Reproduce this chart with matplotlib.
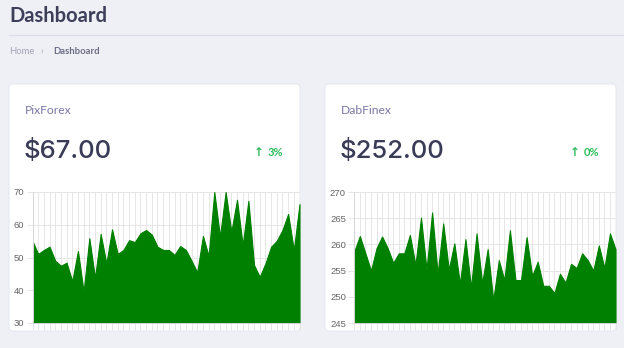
import numpy as np
import matplotlib.pyplot as plt
from matplotlib.patches import FancyBboxPatch

# price history for the two tickers
pix_prices = [55.0, 51.1, 52.3, 53.3, 49.0, 47.5, 48.4, 42.8, 52.0, 39.6,
              55.9, 43.8, 57.2, 48.2, 58.6, 51.1, 52.3, 55.3, 54.7, 57.4,
              58.4, 57.0, 53.3, 52.3, 52.3, 50.8, 53.5, 52.3, 49.0, 45.5,
              56.6, 50.5, 70.0, 56.4, 70.0, 57.9, 67.6, 53.8, 67.3, 47.7,
              44.1, 48.2, 53.3, 55.1, 58.4, 63.3, 52.3, 66.3]
dab_prices = [258.7, 261.6, 258.3, 255.0, 259.3, 261.5, 259.3, 256.5, 258.3, 258.3,
              261.8, 256.1, 265.1, 255.2, 266.1, 254.4, 264.0, 255.2, 260.2, 252.5,
              261.0, 251.8, 262.1, 252.6, 259.1, 249.4, 257.0, 253.2, 262.7, 253.2,
              253.2, 261.4, 254.0, 256.7, 252.1, 252.1, 250.7, 254.4, 252.7, 256.3,
              255.5, 258.3, 257.0, 255.0, 259.8, 255.5, 262.1, 259.1]
pix_ticks = [30, 40, 50, 60, 70]
dab_ticks = [245, 250, 255, 260, 265, 270]

cards = [
    {"name": "PixForex", "price": "$67.00", "change": "3%",
     "data": pix_prices, "ticks": pix_ticks, "x": 9, "pad": 23.5},
    {"name": "DabFinex", "price": "$252.00", "change": "0%",
     "data": dab_prices, "ticks": dab_ticks, "x": 325, "pad": 29.3},
]

W, H = 624, 348
BG = "#eef0f6"
UI_FONT = ["Lato", "DejaVu Sans"]

fig = plt.figure(figsize=(W / 100, H / 100), dpi=100)
fig.patch.set_facecolor(BG)

# full-figure axes in pixel units for the page chrome
page = fig.add_axes([0, 0, 1, 1])
page.set_xlim(0, W)
page.set_ylim(H, 0)
page.axis("off")

page.text(9, 16, "Dashboard", fontsize=14.5, color="#3c3e5a", fontweight="bold",
          family=UI_FONT, va="center", ha="left")
page.plot([9, W], [35, 35], color="#dcdde8", lw=0.8)
page.text(9, 51, "Home", fontsize=6.8, color="#a3a4b5", family=UI_FONT,
          va="center", ha="left")
page.text(40, 51, "›", fontsize=7, color="#a3a4b5", family=UI_FONT,
          va="center", ha="left")
page.text(53, 51, "Dashboard", fontsize=6.8, color="#6c6d85", family=UI_FONT,
          va="center", ha="left", fontweight="bold")


def to_fig(x0, y0, x1, y1):
    return [x0 / W, 1 - y1 / H, (x1 - x0) / W, (y1 - y0) / H]


for card in cards:
    cx = card["x"]
    page.add_patch(FancyBboxPatch((cx, 84), 291, 247,
                                  boxstyle="round,pad=0,rounding_size=4",
                                  facecolor="white", edgecolor="#e4e5ee", lw=0.6))
    page.text(cx + 16, 110, card["name"], fontsize=8.7, color="#7a76a6",
              family=UI_FONT, va="center", ha="left")
    page.text(cx + 15, 151, card["price"], fontsize=18.5, color="#3a3b57",
              family=["Inter", "DejaVu Sans"], fontweight="medium",
              va="center", ha="left")
    page.text(cx + 274, 152, card["change"], fontsize=8, color="#2dbd5a",
              family=UI_FONT, va="center", ha="right", fontweight="bold")
    page.text(cx + 245, 152, "↑", fontsize=8.5, color="#2dbd5a",
              family="DejaVu Sans", va="center", ha="left", fontweight="bold")

    vals = np.array(card["data"])
    xs = np.arange(len(vals))
    ticks = card["ticks"]
    ax = fig.add_axes(to_fig(cx + card["pad"], 192, cx + 290.5, 323))
    ax.set_facecolor("none")
    ax.fill_between(xs, vals, ticks[0], color="#008000", lw=0.8, edgecolor="#008000")
    ax.set_xlim(0, len(vals) - 1)
    ax.set_ylim(ticks[0], ticks[-1])
    ax.set_yticks(ticks)
    ax.set_xticks(xs)
    ax.set_xticklabels([])
    ax.grid(True, color="#e6e6e6", lw=0.7)
    ax.set_axisbelow(True)
    ax.tick_params(axis="x", length=5, color="#e6e6e6", width=0.7)
    ax.tick_params(axis="y", length=4, color="#e6e6e6", width=0.7, pad=2,
                   labelsize=6.8, labelcolor="#666666")
    for lab in ax.get_yticklabels():
        lab.set_family("Liberation Sans")
    for side in ("top", "right"):
        ax.spines[side].set_visible(False)
    for side in ("left", "bottom"):
        ax.spines[side].set_color("#d6d6d6")
        ax.spines[side].set_linewidth(0.7)

fig.savefig("out.png", dpi=100, facecolor=BG)
